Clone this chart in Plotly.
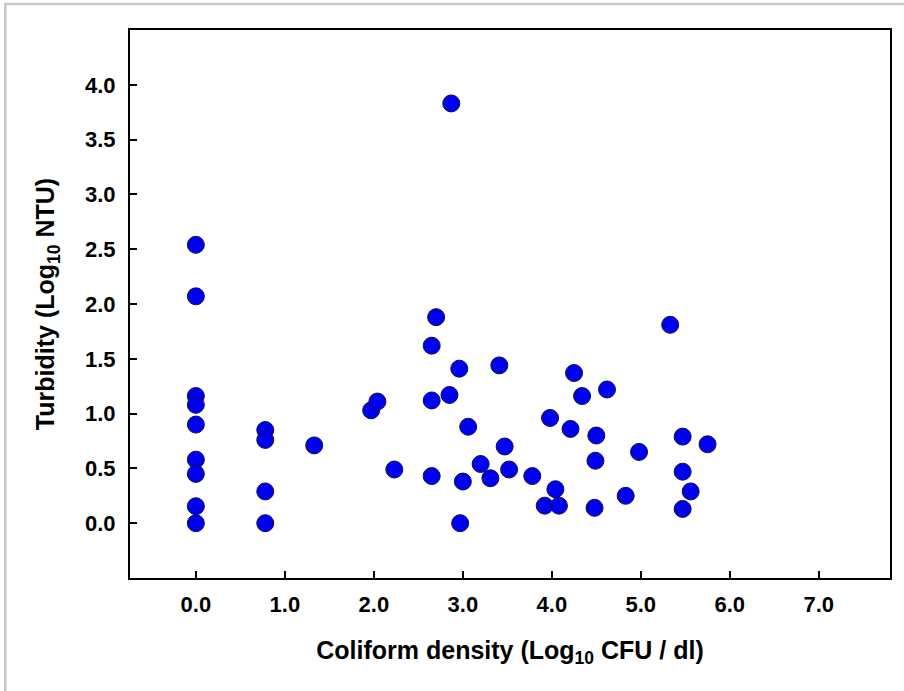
import plotly.graph_objects as go

coliform = [0.0, 0.0, 0.0, 0.0, 0.0, 0.0, 0.0, 0.0, 0.0,
            0.78, 0.78, 0.78, 0.78,
            1.33, 1.97, 2.04, 2.23,
            2.87, 2.70, 2.65, 2.96, 3.41, 2.65, 2.85, 3.06, 3.47, 3.20, 3.31, 3.52, 3.78,
            2.65, 3.00, 2.97,
            4.25, 4.34, 4.62, 3.98, 4.21, 4.50, 4.49, 4.98, 4.04, 3.92, 4.08, 4.48, 4.83,
            5.33, 5.47, 5.75, 5.47, 5.56, 5.47]
turbidity = [2.54, 2.07, 1.16, 1.08, 0.90, 0.58, 0.45, 0.155, 0.0,
             0.85, 0.76, 0.29, 0.0,
             0.71, 1.03, 1.11, 0.49,
             3.83, 1.88, 1.62, 1.41, 1.44, 1.12, 1.17, 0.88, 0.70, 0.54, 0.41, 0.49, 0.43,
             0.43, 0.38, 0.0,
             1.37, 1.16, 1.22, 0.96, 0.86, 0.80, 0.57, 0.65, 0.31, 0.16, 0.16, 0.14, 0.25,
             1.81, 0.79, 0.72, 0.47, 0.29, 0.13]

x_ticks = [0, 1, 2, 3, 4, 5, 6, 7]
y_ticks = [0, 0.5, 1.0, 1.5, 2.0, 2.5, 3.0, 3.5, 4.0]

FONT = "Liberation Sans, Arial, sans-serif"

fig = go.Figure()
fig.add_trace(go.Scatter(
    x=coliform, y=turbidity, mode="markers",
    marker=dict(size=17, color="#0000f0", line=dict(color="#10104a", width=1)),
    showlegend=False,
))

axis_common = dict(
    showgrid=False, zeroline=False, showline=True, linecolor="black", linewidth=2,
    mirror=True, ticks="inside", ticklen=7, tickwidth=1.5, tickcolor="black",
    tickfont=dict(family=FONT, size=22, color="black", weight="bold"),
    tickformat=".1f",
)

fig.update_layout(
    width=904, height=691,
    margin=dict(l=130, r=12, t=30, b=113),
    paper_bgcolor="white", plot_bgcolor="white",
    font=dict(family=FONT),
    xaxis=dict(range=[-0.74, 7.8], tickvals=x_ticks, ticklabelstandoff=6,
               title=dict(text="<b>Coliform density (Log<sub>10</sub> CFU / dl)</b>",
                          font=dict(family=FONT, size=25, color="black"), standoff=25),
               **axis_common),
    yaxis=dict(range=[-0.5, 4.5], tickvals=y_ticks, ticklabelstandoff=8,
               title=dict(text="<b>Turbidity (Log<sub>10</sub> NTU)</b>",
                          font=dict(family=FONT, size=25, color="black"), standoff=23),
               **axis_common),
    shapes=[dict(type="rect", xref="paper", yref="paper",
                 x0=(5 - 130) / 762, x1=(915 - 130) / 762,
                 y0=(578 - 700) / 548, y1=(578 - 4) / 548,
                 line=dict(color="#c8c8c8", width=2.5), layer="below")],
)

fig.write_html("out.html")
